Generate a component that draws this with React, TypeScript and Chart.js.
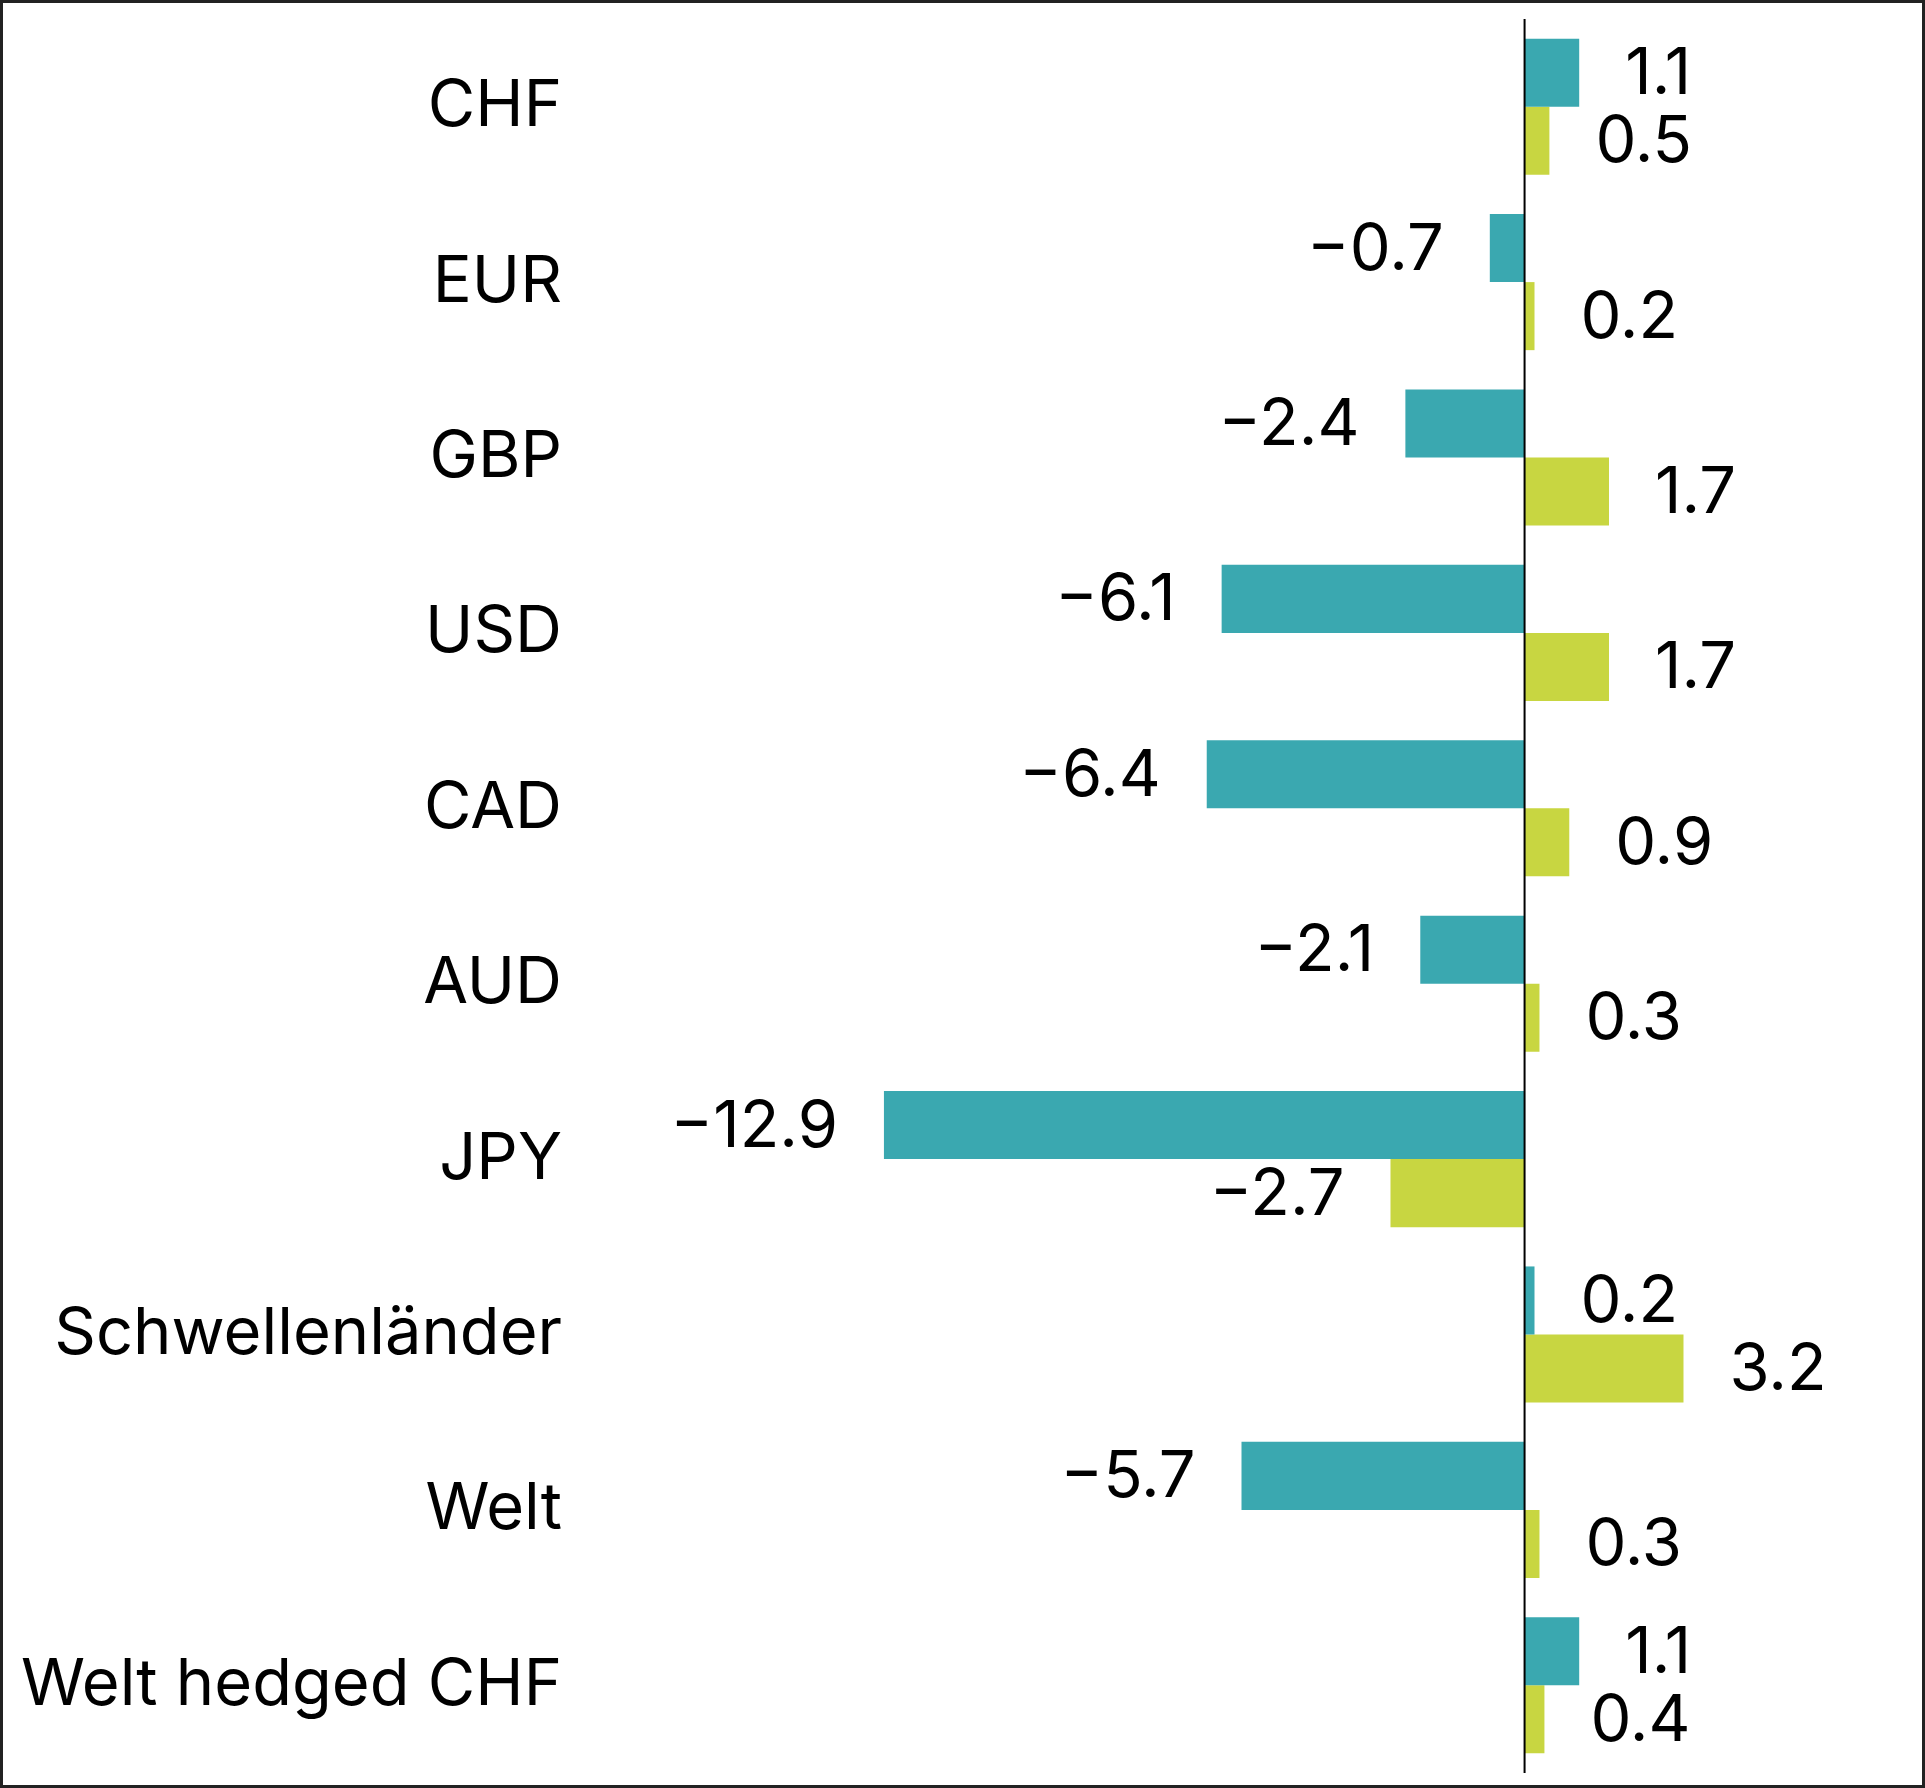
import { useEffect, useRef } from "react"
import { Chart, registerables } from "chart.js"

Chart.register(...registerables)

// Categories and series values
const categories = [
  "CHF",
  "EUR",
  "GBP",
  "USD",
  "CAD",
  "AUD",
  "JPY",
  "Schwellenländer",
  "Welt",
  "Welt hedged CHF",
]
const seriesA = [1.1, -0.7, -2.4, -6.1, -6.4, -2.1, -12.9, 0.2, -5.7, 1.1]
const seriesB = [0.5, 0.2, 1.7, 1.7, 0.9, 0.3, -2.7, 3.2, 0.3, 0.4]

const TEAL = "#3aa8b0"
const LIME = "#c8d641"
const FONT = "Inter, 'Noto Sans', sans-serif"
const FONT_SIZE = 65

// zero line + value labels
const overlayPlugin = {
  id: "overlay",
  afterDatasetsDraw(chart: any) {
    const { ctx, chartArea, scales } = chart
    const x0 = scales.x.getPixelForValue(0)
    ctx.save()
    ctx.strokeStyle = "#000"
    ctx.lineWidth = 2
    ctx.beginPath()
    ctx.moveTo(x0, chartArea.top)
    ctx.lineTo(x0, chartArea.bottom)
    ctx.stroke()

    ctx.fillStyle = "#000"
    ctx.font = `${FONT_SIZE}px ${FONT}`
    ctx.textBaseline = "middle"
    chart.data.datasets.forEach((ds: any, di: number) => {
      const meta = chart.getDatasetMeta(di)
      meta.data.forEach((bar: any, i: number) => {
        const v = ds.data[i]
        const txt = v < 0 ? "\u2212" + Math.abs(v).toFixed(1) : v.toFixed(1)
        if (v < 0) {
          ctx.textAlign = "right"
          ctx.fillText(txt, bar.x - 46, bar.y + 2)
        } else {
          ctx.textAlign = "left"
          ctx.fillText(txt, bar.x + 46, bar.y + 2)
        }
      })
    })
    ctx.restore()
  },
}

export default function App() {
  const chartRef = useRef<HTMLCanvasElement>(null)
  const chartInstance = useRef<Chart | null>(null)

  useEffect(() => {
    document.body.style.margin = "0"
    if (chartRef.current) {
      if (chartInstance.current) {
        chartInstance.current.destroy()
      }
      const ctx = chartRef.current.getContext("2d")
      if (ctx) {
        chartInstance.current = new Chart(ctx, {
          type: "bar",
          data: {
            labels: categories,
            datasets: [
              {
                data: seriesA,
                backgroundColor: TEAL,
                barPercentage: 1,
                categoryPercentage: 0.776,
              },
              {
                data: seriesB,
                backgroundColor: LIME,
                barPercentage: 1,
                categoryPercentage: 0.776,
              },
            ],
          },
          options: {
            indexAxis: "y",
            responsive: false,
            animation: false,
            events: [],
            layout: {
              padding: { top: 16, bottom: 12, left: 0, right: 20 },
            },
            plugins: {
              legend: { display: false },
              tooltip: { enabled: false },
            },
            scales: {
              x: {
                min: -19,
                max: 7.6,
                display: false,
              },
              y: {
                afterFit: (scale: any) => {
                  scale.width = 578
                  scale.paddingTop = 0
                  scale.paddingBottom = 0
                },
                grid: { display: false, drawTicks: false },
                border: { display: false },
                ticks: {
                  color: "#000",
                  padding: 19,
                  font: { family: FONT, size: FONT_SIZE },
                },
              },
            },
          },
          plugins: [overlayPlugin],
        })
      }
    }

    return () => {
      if (chartInstance.current) {
        chartInstance.current.destroy()
      }
    }
  }, [])

  return (
    <div
      style={{
        position: "absolute",
        left: 0,
        top: 0,
        width: 1925,
        height: 1788,
        boxSizing: "border-box",
        border: "3px solid #222",
        background: "#fff",
      }}
    >
      <canvas
        ref={chartRef}
        width={1919}
        height={1782}
        style={{ display: "block", width: 1919, height: 1782 }}
      />
    </div>
  )
}
